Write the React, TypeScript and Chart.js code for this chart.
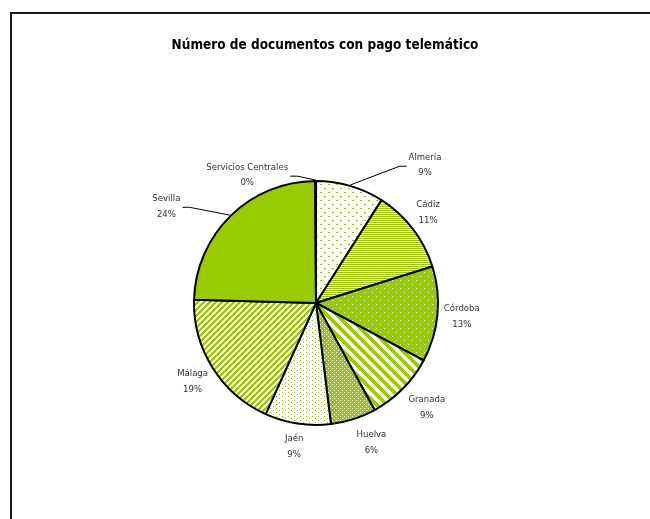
import React, { useEffect, useRef } from 'react';
import { Chart, registerables } from 'chart.js';

Chart.register(...registerables);

const TITLE = 'Número de documentos con pago telemático';
const categories = ['Almería', 'Cádiz', 'Córdoba', 'Granada', 'Huelva', 'Jaén', 'Málaga', 'Sevilla', 'Servicios Centrales'];
const shares = [9.0, 11.1, 12.6, 9.2, 6.0, 8.7, 18.6, 24.4, 0.1];

// label layout (relative to each slice): angular shift in degrees, radial distance factor, leader line
const labelShift = [22.1, -1.4, 0, -1.3, -3.8, 0, -0.5, -12.7, -28.1];
const labelDist = [1.44, 1.18, 1.2, 1.25, 1.23, 1.19, 1.2, 1.46, 1.19];
const labelLeader = [true, false, false, false, false, false, false, true, true];

const GREEN = '#99CC00';
const FONT = "'Liberation Sans Narrow', 'DejaVu Sans Condensed', 'Arial Narrow', sans-serif";

function tile(w: number, h: number, bg: string, fg: string, on: (x: number, y: number) => boolean): CanvasPattern | string {
  const c = document.createElement('canvas');
  c.width = w;
  c.height = h;
  const g = c.getContext('2d');
  if (!g) return bg;
  g.fillStyle = bg;
  g.fillRect(0, 0, w, h);
  g.fillStyle = fg;
  for (let y = 0; y < h; y++) {
    for (let x = 0; x < w; x++) {
      if (on(x, y)) g.fillRect(x, y, 1, 1);
    }
  }
  const p = g.createPattern(c, 'repeat');
  return p || bg;
}

function makeFills() {
  return [
    tile(8, 8, '#ffffff', GREEN, (x, y) => ((x === 0 || x === 1) && y === 0) || ((x === 4 || x === 5) && y === 4)), // Almería
    tile(1, 2, '#ffffff', GREEN, (x, y) => y === 0), // Cádiz
    tile(8, 8, GREEN, '#ffffff', (x, y) => (x === 0 && y === 0) || (x === 4 && y === 4)), // Córdoba
    tile(10, 10, '#ffffff', GREEN, (x, y) => (((x - y) % 10) + 10) % 10 < 5), // Granada
    tile(4, 4, GREEN, '#ffffff', (x, y) => (x === 0 && y === 0) || (x === 2 && y === 2)), // Huelva
    tile(6, 4, '#ffffff', GREEN, (x, y) => (x === 0 && y === 0) || (x === 3 && y === 2)), // Jaén
    tile(6, 6, '#ffffff', GREEN, (x, y) => (x + y) % 6 < 3), // Málaga
    GREEN, // Sevilla
    GREEN, // Servicios Centrales
  ];
}

const decorPlugin = {
  id: 'decor',
  beforeDraw(chart: any) {
    const ctx = chart.ctx as CanvasRenderingContext2D;
    ctx.save();
    ctx.fillStyle = '#ffffff';
    ctx.fillRect(0, 0, chart.width, chart.height);
    ctx.fillStyle = '#1a1a1a';
    ctx.fillRect(10, 12, 2, chart.height);
    ctx.fillRect(10, 12, chart.width, 2);
    ctx.fillStyle = '#000000';
    ctx.font = `bold 13.5px ${FONT}`;
    ctx.textAlign = 'center';
    ctx.textBaseline = 'middle';
    ctx.fillText(TITLE, 325, 45);
    ctx.restore();
  },
  afterDatasetsDraw(chart: any) {
    const ctx = chart.ctx as CanvasRenderingContext2D;
    const meta = chart.getDatasetMeta(0);
    const values = chart.data.datasets[0].data as number[];
    const total = values.reduce((a, b) => a + b, 0);
    ctx.save();
    ctx.font = `9.5px ${FONT}`;
    ctx.textAlign = 'center';
    ctx.textBaseline = 'middle';
    meta.data.forEach((arc: any, i: number) => {
      const p = arc.getProps(['x', 'y', 'startAngle', 'endAngle', 'outerRadius'], true);
      const mid = (p.startAngle + p.endAngle) / 2;
      const a = mid + (labelShift[i] * Math.PI) / 180;
      const lx = p.x + Math.cos(a) * p.outerRadius * labelDist[i];
      const ly = p.y + Math.sin(a) * p.outerRadius * labelDist[i];
      const name = String(chart.data.labels[i]);
      const pct = Math.round((values[i] / total) * 100) + '%';
      ctx.fillStyle = '#333333';
      ctx.fillText(name, lx, ly - 7.75);
      ctx.fillText(pct, lx, ly + 7.75);
      if (labelLeader[i]) {
        const w = Math.max(ctx.measureText(name).width, ctx.measureText(pct).width);
        const px = p.x + Math.cos(mid) * (p.outerRadius + 1);
        const py = p.y + Math.sin(mid) * (p.outerRadius + 1);
        const side = lx < px ? 1 : -1;
        const ex = lx + side * (w / 2 + 2);
        const kx = ex + side * 7;
        ctx.strokeStyle = '#000000';
        ctx.lineWidth = 1;
        ctx.beginPath();
        ctx.moveTo(ex, ly + 1);
        ctx.lineTo(kx, ly + 1);
        ctx.lineTo(px, py);
        ctx.stroke();
      }
    });
    ctx.restore();
  },
};

export default function App() {
  const ref = useRef<HTMLCanvasElement | null>(null);
  useEffect(() => {
    if (!ref.current) return;
    const chart = new Chart(ref.current, {
      type: 'pie',
      data: {
        labels: categories,
        datasets: [
          {
            data: shares,
            backgroundColor: makeFills() as any,
            borderColor: '#000000',
            borderWidth: 2,
          },
        ],
      },
      options: {
        responsive: false,
        animation: false,
        radius: 122,
        layout: { padding: { top: 181, bottom: 94, left: 150, right: 168 } },
        plugins: {
          legend: { display: false },
          tooltip: { enabled: false },
          title: { display: false },
        },
      } as any,
      plugins: [decorPlugin],
    });
    return () => chart.destroy();
  }, []);
  return (
    <div style={{ position: 'absolute', left: 0, top: 0, width: 650, height: 519 }}>
      <canvas ref={ref} width={650} height={519} style={{ display: 'block' }} />
    </div>
  );
}
